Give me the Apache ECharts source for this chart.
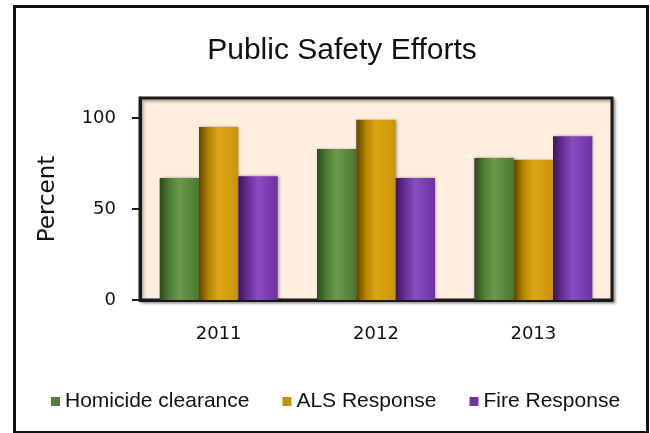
<!DOCTYPE html>
<html>
<head>
<meta charset="utf-8">
<script src="https://cdn.jsdelivr.net/npm/echarts@6/dist/echarts.min.js"></script>
<style>
  html, body { margin: 0; padding: 0; background: #ffffff; }
  #chart { width: 650px; height: 433px; }
</style>
</head>
<body>
<div id="chart"></div>
<script>
// Years on the category axis
const categories = ['2011', '2012', '2013'];
// Percent values per measure
const homicideClearance = [67, 83, 78];
const alsResponse = [95, 99, 77];
const fireResponse = [68, 67, 90];
// Value-axis tick labels
const yTicks = [0, 50, 100];

const tickFont = "'DejaVu Sans', sans-serif";

// Cylinder-like horizontal shading for each bar colour
function shade(dark, mid, light, edge) {
  return new echarts.graphic.LinearGradient(0, 0, 1, 0, [
    { offset: 0, color: dark },
    { offset: 0.25, color: mid },
    { offset: 0.5, color: light },
    { offset: 1, color: edge }
  ]);
}

const chart = echarts.init(document.getElementById('chart'), null, { renderer: 'canvas' });

function barSeries(name, data, fill) {
  return {
    name: name,
    type: 'bar',
    data: data,
    barGap: '0%',
    barCategoryGap: '25%',
    itemStyle: {
      color: fill,
      shadowColor: 'rgba(0,0,0,0.35)',
      shadowBlur: 3,
      shadowOffsetX: 1,
      shadowOffsetY: 0
    },
    emphasis: { disabled: true }
  };
}

chart.setOption({
  animation: false,
  backgroundColor: '#ffffff',
  title: {
    text: 'Public Safety Efforts',
    left: 337,
    textAlign: 'center',
    top: 31,
    textStyle: {
      fontFamily: "'Liberation Sans', Arial, sans-serif",
      fontSize: 30,
      fontWeight: 'normal',
      color: '#111111'
    }
  },
  legend: {
    left: 46,
    top: 386,
    icon: 'rect',
    itemWidth: 9,
    itemHeight: 9,
    itemGap: 33,
    textStyle: {
      fontFamily: "'Liberation Sans', Arial, sans-serif",
      fontSize: 21,
      color: '#111111'
    },
    data: [
      { name: 'Homicide clearance', itemStyle: { color: '#4f8036' } },
      { name: 'ALS Response', itemStyle: { color: '#c49204' } },
      { name: 'Fire Response', itemStyle: { color: '#7232a3' } }
    ]
  },
  grid: {
    left: 140,
    right: 38,
    top: 98,
    bottom: 133,
    show: true,
    backgroundColor: '#feeee0',
    borderColor: '#1a1a1a',
    borderWidth: 3,
    shadowColor: 'rgba(0,0,0,0.35)',
    shadowBlur: 3,
    shadowOffsetX: 2,
    shadowOffsetY: 2
  },
  xAxis: {
    type: 'category',
    data: categories,
    axisLine: { show: true, lineStyle: { color: '#1a1a1a', width: 3 } },
    axisTick: { show: false },
    axisLabel: {
      margin: 25,
      fontFamily: tickFont,
      fontSize: 18,
      color: '#111111'
    }
  },
  yAxis: {
    type: 'value',
    min: 0,
    max: 111,
    interval: 50,
    name: 'Percent',
    nameLocation: 'middle',
    nameRotate: 90,
    nameGap: 80,
    nameTextStyle: {
      fontFamily: tickFont,
      fontSize: 23,
      color: '#111111'
    },
    splitLine: { show: false },
    axisLine: { show: true, lineStyle: { color: '#1a1a1a', width: 3 } },
    axisTick: {
      show: true,
      inside: false,
      length: 8,
      customValues: yTicks,
      lineStyle: { color: '#1a1a1a', width: 2 }
    },
    axisLabel: {
      margin: 24,
      customValues: yTicks,
      fontFamily: tickFont,
      fontSize: 18,
      color: '#111111'
    }
  },
  series: [
    barSeries('Homicide clearance', homicideClearance,
      shade('#2b4a1c', '#4f7d35', '#6a9a4b', '#4b7831')),
    barSeries('ALS Response', alsResponse,
      shade('#5e4400', '#b58600', '#dca616', '#c99507')),
    barSeries('Fire Response', fireResponse,
      shade('#3a1658', '#6a2e9a', '#8a4cc0', '#6c31a1'))
  ],
  graphic: [
    {
      type: 'rect',
      left: 12,
      top: 4,
      shape: { width: 633, height: 426 },
      style: { fill: 'none', stroke: '#111111', lineWidth: 3 },
      silent: true
    }
  ]
});
</script>
</body>
</html>
